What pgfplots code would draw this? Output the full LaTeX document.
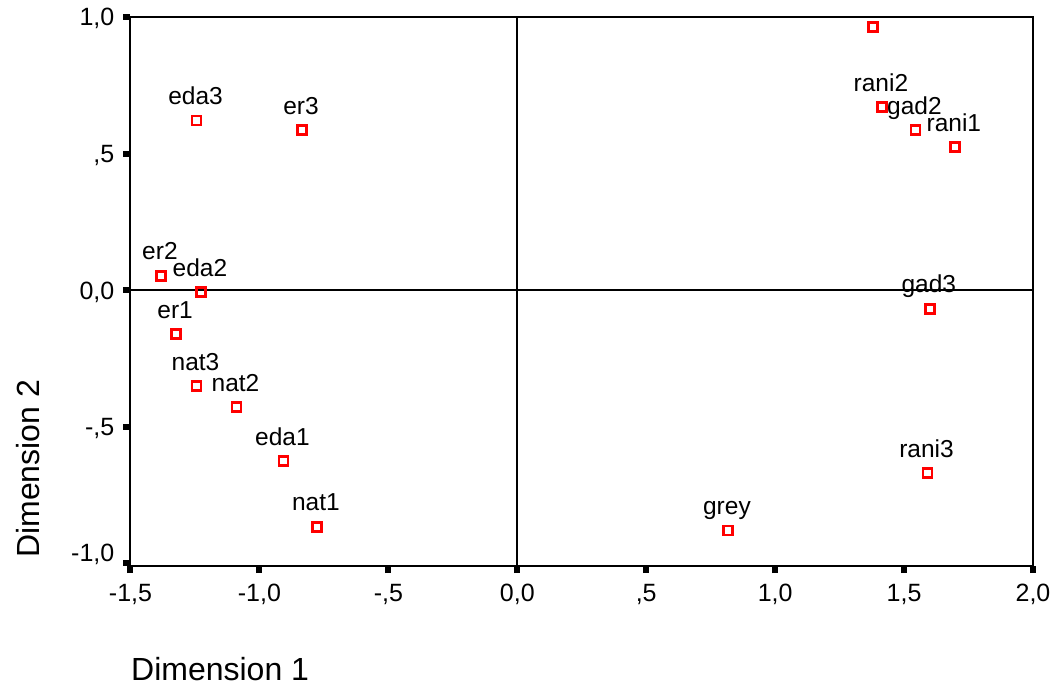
\documentclass[border=0pt]{standalone}
\usepackage{fontspec}
\setmainfont{Liberation Sans}
\usepackage{pgfplots}
\pgfplotsset{compat=1.18}
\pgfplotstableread{
x y label
-1.244 0.620 eda3
-0.835 0.586 er3
-1.382 0.052 er2
-1.227 -0.007 eda2
-1.323 -0.161 er1
-1.244 -0.351 nat3
-1.089 -0.428 nat2
-0.907 -0.626 eda1
-0.777 -0.867 nat1
0.817 -0.879 grey
1.600 -0.069 gad3
1.591 -0.670 rani3
1.414 0.670 rani2
1.544 0.586 gad2
1.697 0.524 rani1
}\labeled
\pgfplotstableread{
x y
1.379 0.963
}\unlabeled
\begin{document}
\begin{tikzpicture}
\begin{axis}[
  scale only axis, width=902.5pt, height=549pt,
  xmin=-1.5, xmax=2, ymin=-1.01, ymax=1,
  clip=false,
  axis line style={line width=2pt, black},
  tick pos=left, tick align=outside,
  major tick length=7pt,
  every tick/.style={black, line width=6pt},
  xtick={-1.5,-1,-0.5,0,0.5,1,1.5,2},
  xticklabels={{-1,5},{-1,0},{-,5},{0,0},{,5},{1,0},{1,5},{2,0}},
  ytick={-1,-0.5,0,0.5,1},
  yticklabels={{\raisebox{11pt}{-1,0}},{-,5},{0,0},{,5},{1,0}},
  xticklabel style={font=\fontsize{25}{25}\selectfont, anchor=north, inner sep=0pt, text height=18pt, text depth=0pt, yshift=-10pt},
  yticklabel style={font=\fontsize{25}{25}\selectfont, anchor=east, inner sep=0pt, text height=18pt, text depth=0pt, xshift=-9pt},
  xlabel={Dimension 1},
  ylabel={Dimension 2},
  xlabel style={font=\fontsize{32}{32}\selectfont, at={(axis description cs:0.00055,-0.2094)}, anchor=base west, inner sep=0pt},
  ylabel style={font=\fontsize{32}{32}\selectfont, at={(axis description cs:-0.1010,0.0146)}, anchor=base west, inner sep=0pt, rotate=0},
]
\draw[line width=2pt, black] (axis cs:0,-1.01) -- (axis cs:0,1);
\draw[line width=2pt, black] (axis cs:-1.5,0) -- (axis cs:2,0);
\addplot[only marks, mark=square, mark size=4.5pt, mark options={draw=red, line width=2.3pt},
  point meta=explicit symbolic, nodes near coords,
  every node near coord/.append style={anchor=base, yshift=16pt, xshift=-1pt, inner sep=0pt, font=\fontsize{24.5}{24.5}\selectfont, black}]
  table[x=x, y=y, meta=label] {\labeled};
\addplot[only marks, mark=square, mark size=4.5pt, mark options={draw=red, line width=2.3pt}]
  table[x=x, y=y] {\unlabeled};
\end{axis}
\pgfresetboundingbox
\path[use as bounding box] (-130.5pt,-120pt) rectangle (930.5pt,566pt);
\end{tikzpicture}
\end{document}
